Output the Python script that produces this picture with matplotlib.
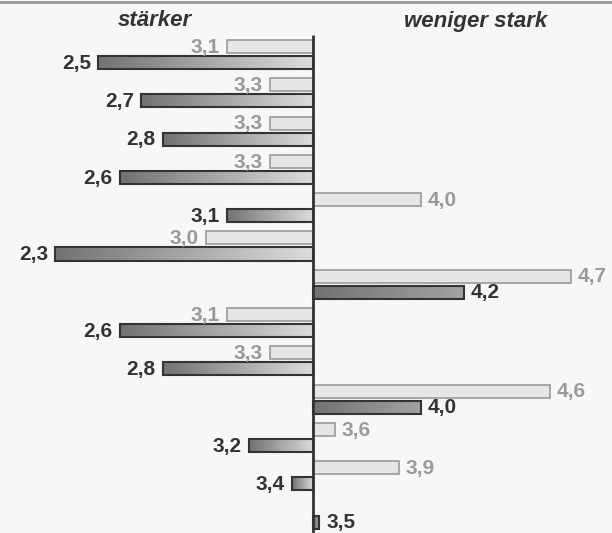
import numpy as np
import matplotlib.pyplot as plt
from matplotlib.colors import LinearSegmentedColormap

plt.rcParams['font.family'] = ['Liberation Sans', 'DejaVu Sans']

# Mittelwerte je Item: hell = Vergleichsgruppe, dunkel = Gruppe
light_vals = [3.1, 3.3, 3.3, 3.3, 4.0, 3.0, 4.7, 3.1, 3.3, 4.6, 3.6, 3.9, None]
dark_vals = [2.5, 2.7, 2.8, 2.6, 3.1, 2.3, 4.2, 2.6, 2.8, 4.0, 3.2, 3.4, 3.5]
mid = 3.5
left_title = "stärker"
right_title = "weniger stark"

bg = "#f7f7f7"
fig = plt.figure(figsize=(6.12, 5.33), dpi=100, facecolor=bg)
ax = fig.add_axes([0, 0, 1, 1])
ax.set_facecolor(bg)
ax.axis("off")

off = 0.418
h = 0.34
grad_left = LinearSegmentedColormap.from_list("gl", ["#727272", "#dcdcdc"])
grad_right = LinearSegmentedColormap.from_list("gr", ["#727272", "#a2a2a2"])
ramp = np.linspace(0, 1, 256).reshape(1, -1)

def fmt(v):
    return f"{v:.1f}".replace(".", ",")

for i, (lv, dv) in enumerate(zip(light_vals, dark_vals)):
    if lv is not None:
        y = i - off
        ax.barh(y, lv - mid, left=mid, height=h, color="#e6e6e6",
                edgecolor="#9a9a9a", linewidth=1.2, zorder=2)
        ha = "right" if lv < mid else "left"
        dx = -5 if lv < mid else 5
        ax.annotate(fmt(lv), (lv, y), xytext=(dx, -0.5), textcoords="offset points",
                    ha=ha, va="center", fontsize=15, fontweight="bold",
                    color="#999999", zorder=4)
    w = dv - mid
    if abs(w) < 0.02:
        w = 0.03
    bar = ax.barh(i, w, left=mid, height=h, color="none",
                  edgecolor="#333333", linewidth=1.5, zorder=3)[0]
    x0, x1 = sorted([mid, mid + w])
    cmap = grad_left if dv < mid else grad_right
    im = ax.imshow(ramp, cmap=cmap, aspect="auto", interpolation="bilinear",
                   extent=(x0, x1, i + h / 2, i - h / 2), zorder=2.5)
    im.set_clip_path(bar)
    ha = "right" if dv < mid else "left"
    end = dv if dv < mid else mid + w
    dx = -5 if dv < mid else 5
    ax.annotate(fmt(dv), (end, i), xytext=(dx, -0.5), textcoords="offset points",
                ha=ha, va="center", fontsize=15, fontweight="bold",
                color="#333333", zorder=4)

ax.set_xlim(mid - 313 / 215, mid + 299 / 215)
ax.set_ylim(12.285, -1.632)

# Mittellinie
ax.plot([mid, mid], [-0.72, 12.285], color="#333333", linewidth=2, zorder=5,
        solid_capstyle="butt")

fig.text(155 / 612, 1 - 21 / 533, left_title, ha="center", va="center",
         fontsize=16, fontweight="bold", fontstyle="italic", color="#333333")
fig.text(476 / 612, 1 - 21 / 533, right_title, ha="center", va="center",
         fontsize=16, fontweight="bold", fontstyle="italic", color="#333333")

# obere Rahmenlinie
fig.add_artist(plt.Line2D([0, 1], [1 - 2 / 533, 1 - 2 / 533],
                          transform=fig.transFigure, color="#999999", linewidth=2))

fig.savefig("out.png", dpi=100, facecolor=bg)
